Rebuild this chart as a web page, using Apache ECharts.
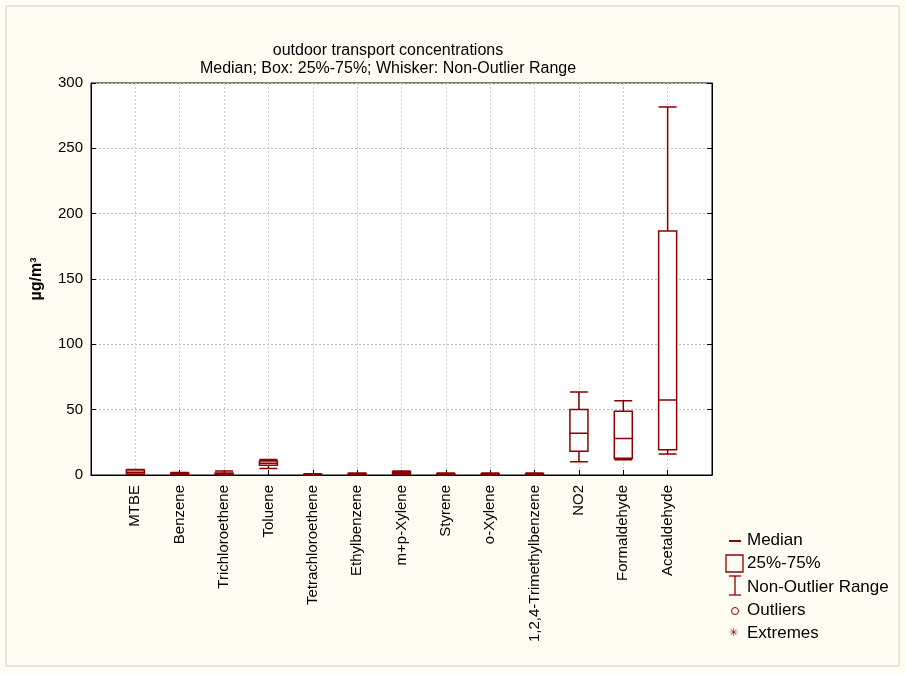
<!DOCTYPE html>
<html><head><meta charset="utf-8">
<script src="https://cdn.jsdelivr.net/npm/echarts@6/dist/echarts.min.js"></script>
<style>html,body{margin:0;padding:0;background:#fffdf3}#c{width:906px;height:673px}</style>
</head><body><div id="c"></div>
<script>
const categories=['MTBE','Benzene','Trichloroethene','Toluene','Tetrachloroethene','Ethylbenzene','m+p-Xylene','Styrene','o-Xylene','1,2,4-Trimethylbenzene','NO2','Formaldehyde','Acetaldehyde'];
// [min, Q1, median, Q3, max]
const boxValues=[
[0.5,0.8,2.2,3.8,4.2],
[0.3,0.6,1.0,1.5,2.0],
[0.0,0.3,0.8,1.5,3.0],
[5.0,7.5,9.0,10.8,11.8],
[0.0,0.1,0.3,0.6,1.0],
[0.2,0.4,0.7,1.2,1.5],
[0.5,1.0,1.6,2.5,3.0],
[0.0,0.3,0.6,1.2,1.5],
[0.0,0.3,0.6,1.0,1.5],
[0.0,0.3,0.6,1.0,1.5],
[10.2,18.1,31.9,50.2,63.5],
[11.7,12.8,28.0,48.7,56.9],
[16.0,19.4,57.4,186.7,281.6]];
const yTicks=[0,50,100,150,200,250,300];
const C='#8b0000';
const cats=[''].concat(categories,['']);
const data=[null].concat(boxValues,[null]).map(v=>v?v:'-');
const chart=echarts.init(document.getElementById('c'));
const F='Liberation Sans, Arial, sans-serif';
chart.setOption({
  backgroundColor:'#fffdf3',
  animation:false,
  title:{text:'outdoor transport concentrations',subtext:'Median; Box: 25%-75%; Whisker: Non-Outlier Range',left:383,textAlign:'center',top:38,itemGap:2,
    textStyle:{fontFamily:F,fontSize:16,fontWeight:'normal',color:'#000'},subtextStyle:{fontFamily:F,fontSize:16,color:'#000'}},
  grid:{left:91,right:194,top:83,bottom:198,show:true,backgroundColor:'#fff',borderColor:'#000',borderWidth:1},
  xAxis:{type:'category',data:cats,boundaryGap:false,
    axisLine:{lineStyle:{color:'#000'}},axisTick:{inside:true,length:5,lineStyle:{color:'#000'},interval:0},
    axisLabel:{rotate:90,interval:0,fontFamily:F,fontSize:15,color:'#000',margin:10},
    splitLine:{show:true,interval:0,lineStyle:{color:'#ccc',type:[2,2]}}},
  yAxis:[{type:'value',min:yTicks[0],max:yTicks[yTicks.length-1],interval:50,
    name:'µg/m³',nameLocation:'middle',nameGap:46,nameTextStyle:{fontFamily:F,fontSize:16,fontWeight:'bold',color:'#000'},
    axisLine:{show:true,lineStyle:{color:'#000'}},axisTick:{show:true,inside:true,length:5,lineStyle:{color:'#000'}},
    axisLabel:{fontFamily:F,fontSize:15,color:'#000',margin:8},
    splitLine:{lineStyle:{color:'#bbb',type:[2,2]}}},
   {type:'value',position:'right',min:0,max:300,interval:50,axisLine:{show:true,lineStyle:{color:'#000'}},
    axisTick:{show:true,inside:true,length:5,lineStyle:{color:'#000'}},axisLabel:{show:false},splitLine:{show:false}}],
  series:[{type:'boxplot',data:data,boxWidth:[18,18],itemStyle:{color:'#fff',borderColor:C,borderWidth:1.5}}],
  graphic:[
    {type:'line',shape:{x1:729,y1:541,x2:741,y2:541},style:{stroke:C,lineWidth:2}},
    {type:'text',left:747,top:532,style:{text:'Median',font:'17px '+F,fill:'#000'}},
    {type:'rect',shape:{x:726,y:555,width:17,height:17},style:{fill:'none',stroke:C,lineWidth:1.3}},
    {type:'text',left:747,top:555,style:{text:'25%-75%',font:'17px '+F,fill:'#000'}},
    {type:'polyline',shape:{points:[[729,576],[741,576]]},style:{stroke:C,lineWidth:1.3}},
    {type:'polyline',shape:{points:[[735,576],[735,595]]},style:{stroke:C,lineWidth:1.3}},
    {type:'polyline',shape:{points:[[729,595],[741,595]]},style:{stroke:C,lineWidth:1.3}},
    {type:'text',left:747,top:579,style:{text:'Non-Outlier Range',font:'17px '+F,fill:'#000'}},
    {type:'circle',shape:{cx:735,cy:611,r:3.5},style:{fill:'none',stroke:C,lineWidth:1}},
    {type:'text',left:747,top:602,style:{text:'Outliers',font:'17px '+F,fill:'#000'}},
    {type:'text',left:729,top:627,style:{text:'✳',font:'11px '+F,fill:C}},
    {type:'text',left:747,top:625,style:{text:'Extremes',font:'17px '+F,fill:'#000'}},
    {type:'rect',shape:{x:6,y:6,width:893,height:660},style:{fill:'none',stroke:'#ccc',lineWidth:1},silent:true}
  ]
});
</script></body></html>
